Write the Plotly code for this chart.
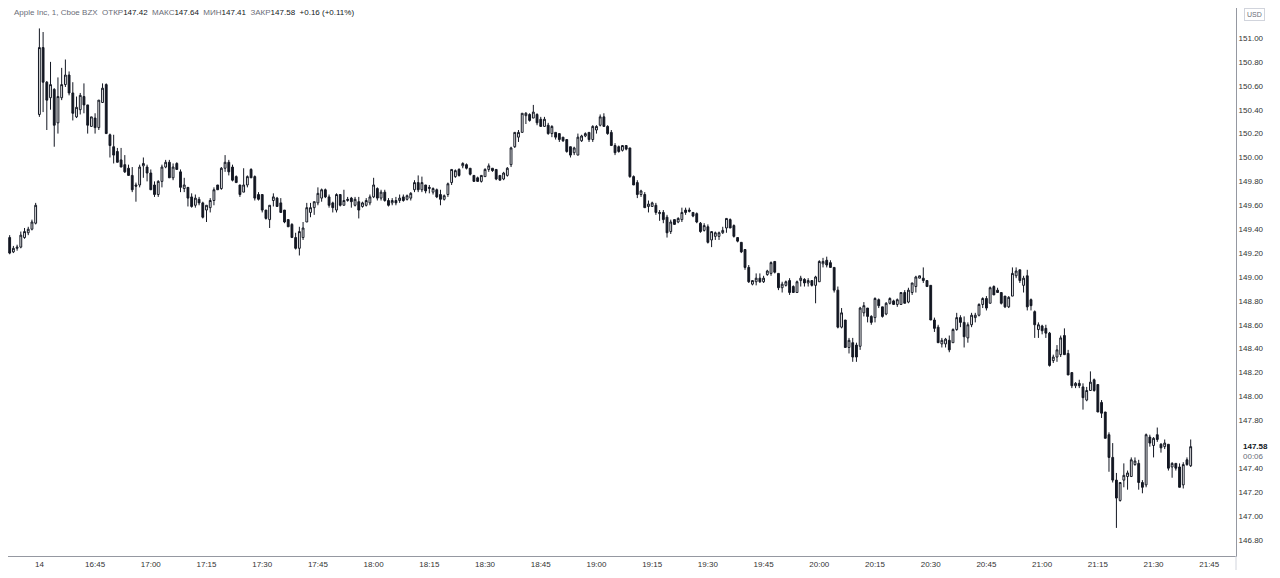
import pandas as pd
import plotly.graph_objects as go

INK = "#131722"
GRAY = "#6a6d78"
LINE = "#d1d4dc"
AXIS = "#9598a1"

# 8 pre-market bars (16:22-16:29), then the session from 16:30 to 21:40, one bar per minute
times = pd.date_range("2021-09-14 16:22", periods=319, freq="min")

opens = [
    149.33, 149.21, 149.24, 149.25, 149.33, 149.37, 149.40, 149.45,
    150.36, 150.92, 150.63, 150.50, 150.57, 150.29, 150.50, 150.61, 150.69, 150.54,
    150.34, 150.40, 150.51, 150.44, 150.26, 150.33, 150.25, 150.46, 150.61, 150.19,
    150.09, 150.05, 149.98, 149.94, 149.91, 149.85, 149.77, 149.77, 149.93, 149.92,
    149.87, 149.77, 149.69, 149.80, 149.92, 149.96, 149.83, 149.95, 149.88, 149.74,
    149.75, 149.67, 149.60, 149.65, 149.62, 149.56, 149.58, 149.64, 149.77, 149.74,
    149.91, 149.96, 149.92, 149.84, 149.77, 149.71, 149.77, 149.90, 149.84, 149.69,
    149.69, 149.56, 149.48, 149.64, 149.66, 149.62, 149.56, 149.48, 149.44, 149.33,
    149.24, 149.33, 149.46, 149.54, 149.58, 149.62, 149.66, 149.73, 149.67, 149.62,
    149.56, 149.69, 149.60, 149.64, 149.66, 149.60, 149.63, 149.59, 149.60, 149.62,
    149.67, 149.74, 149.66, 149.71, 149.64, 149.62, 149.64, 149.64, 149.67, 149.65,
    149.66, 149.73, 149.79, 149.73, 149.77, 149.74, 149.71, 149.73, 149.69, 149.65,
    149.69, 149.79, 149.84, 149.90, 149.93, 149.94, 149.91, 149.85, 149.83, 149.80,
    149.84, 149.90, 149.91, 149.90, 149.85, 149.82, 149.85, 149.94, 150.09, 150.17,
    150.21, 150.35, 150.36, 150.33, 150.36, 150.32, 150.26, 150.27, 150.20, 150.21,
    150.20, 150.17, 150.15, 150.09, 150.04, 150.02, 150.14, 150.18, 150.21, 150.15,
    150.23, 150.27, 150.34, 150.26, 150.21, 150.10, 150.09, 150.06, 150.10, 150.08,
    149.84, 149.79, 149.69, 149.69, 149.59, 149.59, 149.60, 149.53, 149.54, 149.50,
    149.38, 149.48, 149.46, 149.48, 149.56, 149.56, 149.54, 149.53, 149.45, 149.39,
    149.42, 149.31, 149.34, 149.34, 149.37, 149.41, 149.48, 149.43, 149.33, 149.29,
    149.23, 149.08, 148.94, 148.96, 148.99, 148.96, 149.02, 149.03, 149.13, 149.03,
    148.91, 148.93, 148.97, 148.92, 148.87, 148.97, 148.98, 148.95, 148.97, 148.93,
    148.96, 149.11, 149.14, 149.12, 149.08, 148.89, 148.58, 148.64, 148.41, 148.45,
    148.43, 148.42, 148.70, 148.74, 148.67, 148.66, 148.81, 148.75, 148.69, 148.78,
    148.80, 148.77, 148.77, 148.87, 148.79, 148.87, 148.92, 148.99, 148.99, 148.97,
    148.93, 148.64, 148.58, 148.44, 148.44, 148.47, 148.45, 148.56, 148.66, 148.62,
    148.49, 148.60, 148.66, 148.68, 148.77, 148.82, 148.78, 148.92, 148.89, 148.87,
    148.84, 148.75, 148.84, 149.01, 149.06, 148.93, 149.01, 148.81, 148.71, 148.56,
    148.59, 148.57, 148.53, 148.30, 148.33, 148.35, 148.51, 148.36, 148.20, 148.09,
    148.11, 148.08, 147.97, 148.05, 148.14, 148.10, 147.95, 147.87, 147.68, 147.49,
    147.30, 147.13, 147.30, 147.33, 147.33, 147.43, 147.44, 147.28, 147.26, 147.66,
    147.59, 147.68, 147.60, 147.58, 147.60, 147.41, 147.44, 147.41, 147.26, 147.47,
    147.42,
]

highs = [
    149.35, 149.26, 149.27, 149.38, 149.41, 149.42, 149.48, 149.62,
    151.08, 151.05, 150.64, 150.80, 150.58, 150.67, 150.75, 150.82, 150.72, 150.63,
    150.51, 150.54, 150.62, 150.44, 150.34, 150.37, 150.48, 150.62, 150.62, 150.20,
    150.19, 150.08, 150.08, 150.02, 149.94, 149.92, 149.79, 149.94, 150.00, 149.94,
    149.90, 149.80, 149.81, 149.94, 149.98, 149.98, 149.95, 149.96, 149.90, 149.83,
    149.75, 149.70, 149.69, 149.67, 149.63, 149.60, 149.66, 149.75, 149.77, 149.92,
    150.02, 149.98, 149.94, 149.85, 149.77, 149.91, 149.85, 149.91, 149.85, 149.71,
    149.69, 149.56, 149.60, 149.70, 149.67, 149.66, 149.56, 149.48, 149.45, 149.37,
    149.42, 149.46, 149.62, 149.62, 149.63, 149.75, 149.74, 149.74, 149.69, 149.63,
    149.70, 149.69, 149.73, 149.67, 149.67, 149.67, 149.67, 149.63, 149.66, 149.69,
    149.83, 149.75, 149.73, 149.73, 149.66, 149.66, 149.67, 149.69, 149.69, 149.69,
    149.71, 149.81, 149.85, 149.84, 149.77, 149.77, 149.75, 149.74, 149.73, 149.69,
    149.79, 149.90, 149.90, 149.91, 149.96, 149.95, 149.91, 149.85, 149.84, 149.85,
    149.91, 149.95, 149.91, 149.90, 149.85, 149.88, 149.92, 150.09, 150.21, 150.23,
    150.37, 150.38, 150.37, 150.44, 150.37, 150.34, 150.34, 150.29, 150.27, 150.21,
    150.20, 150.17, 150.15, 150.09, 150.09, 150.20, 150.19, 150.21, 150.21, 150.27,
    150.27, 150.36, 150.37, 150.27, 150.23, 150.12, 150.10, 150.10, 150.10, 150.08,
    149.85, 149.81, 149.73, 149.71, 149.64, 149.63, 149.62, 149.56, 149.56, 149.52,
    149.48, 149.48, 149.50, 149.58, 149.58, 149.58, 149.54, 149.54, 149.46, 149.45,
    149.44, 149.38, 149.38, 149.38, 149.42, 149.49, 149.49, 149.44, 149.33, 149.29,
    149.23, 149.10, 148.97, 149.03, 149.03, 149.01, 149.06, 149.13, 149.13, 149.03,
    148.96, 148.97, 148.99, 148.93, 148.97, 149.01, 148.99, 148.99, 148.97, 149.01,
    149.14, 149.16, 149.17, 149.14, 149.08, 148.92, 148.74, 148.64, 148.49, 148.49,
    148.45, 148.75, 148.79, 148.74, 148.68, 148.83, 148.82, 148.75, 148.79, 148.83,
    148.81, 148.82, 148.87, 148.89, 148.91, 148.95, 149.01, 149.01, 149.08, 148.97,
    148.93, 148.66, 148.60, 148.49, 148.49, 148.51, 148.57, 148.70, 148.68, 148.67,
    148.62, 148.70, 148.70, 148.78, 148.83, 148.84, 148.92, 148.93, 148.91, 148.87,
    148.84, 148.84, 149.08, 149.08, 149.06, 149.01, 149.06, 148.82, 148.72, 148.62,
    148.60, 148.60, 148.54, 148.35, 148.43, 148.51, 148.57, 148.39, 148.20, 148.12,
    148.14, 148.11, 148.08, 148.21, 148.15, 148.10, 147.97, 147.87, 147.70, 147.61,
    147.36, 147.28, 147.44, 147.38, 147.49, 147.49, 147.47, 147.30, 147.69, 147.68,
    147.66, 147.74, 147.61, 147.64, 147.60, 147.45, 147.44, 147.44, 147.45, 147.49,
    147.64,
]

lows = [
    149.19, 149.20, 149.22, 149.24, 149.32, 149.35, 149.39, 149.44,
    150.34, 150.38, 150.23, 150.40, 150.09, 150.20, 150.48, 150.59, 150.52, 150.31,
    150.33, 150.36, 150.37, 150.20, 150.26, 150.20, 150.23, 150.46, 150.20, 150.00,
    149.95, 149.96, 149.92, 149.87, 149.85, 149.71, 149.63, 149.75, 149.83, 149.80,
    149.73, 149.67, 149.67, 149.75, 149.91, 149.83, 149.81, 149.90, 149.71, 149.71,
    149.59, 149.58, 149.58, 149.60, 149.49, 149.46, 149.54, 149.60, 149.73, 149.73,
    149.88, 149.85, 149.80, 149.79, 149.67, 149.71, 149.75, 149.83, 149.64, 149.64,
    149.54, 149.48, 149.41, 149.59, 149.59, 149.54, 149.45, 149.42, 149.33, 149.23,
    149.18, 149.31, 149.46, 149.50, 149.52, 149.60, 149.63, 149.66, 149.58, 149.54,
    149.54, 149.59, 149.60, 149.63, 149.58, 149.59, 149.49, 149.58, 149.59, 149.60,
    149.66, 149.64, 149.64, 149.63, 149.59, 149.60, 149.60, 149.62, 149.63, 149.64,
    149.64, 149.71, 149.71, 149.71, 149.70, 149.70, 149.69, 149.66, 149.60, 149.64,
    149.67, 149.77, 149.83, 149.84, 149.91, 149.90, 149.85, 149.80, 149.80, 149.79,
    149.84, 149.88, 149.88, 149.81, 149.81, 149.81, 149.84, 149.92, 150.08, 150.13,
    150.21, 150.28, 150.30, 150.33, 150.27, 150.26, 150.26, 150.19, 150.17, 150.15,
    150.13, 150.13, 150.04, 150.00, 150.02, 150.02, 150.13, 150.17, 150.13, 150.13,
    150.20, 150.26, 150.26, 150.19, 150.10, 150.02, 150.04, 150.05, 150.06, 149.83,
    149.77, 149.66, 149.67, 149.58, 149.54, 149.59, 149.52, 149.47, 149.45, 149.33,
    149.36, 149.44, 149.45, 149.46, 149.52, 149.54, 149.50, 149.45, 149.37, 149.38,
    149.28, 149.25, 149.31, 149.31, 149.36, 149.37, 149.41, 149.33, 149.29, 149.20,
    149.06, 148.95, 148.93, 148.93, 148.95, 148.95, 149.01, 149.01, 149.03, 148.89,
    148.87, 148.92, 148.85, 148.87, 148.87, 148.92, 148.92, 148.92, 148.92, 148.78,
    148.96, 149.08, 149.08, 149.08, 148.87, 148.57, 148.57, 148.41, 148.36, 148.29,
    148.29, 148.39, 148.67, 148.62, 148.60, 148.62, 148.74, 148.66, 148.68, 148.77,
    148.77, 148.75, 148.77, 148.78, 148.78, 148.85, 148.87, 148.99, 148.95, 148.92,
    148.64, 148.54, 148.45, 148.41, 148.41, 148.37, 148.45, 148.55, 148.58, 148.41,
    148.45, 148.58, 148.62, 148.67, 148.74, 148.72, 148.78, 148.85, 148.87, 148.77,
    148.74, 148.74, 148.84, 148.99, 148.95, 148.87, 148.72, 148.72, 148.49, 148.49,
    148.52, 148.49, 148.25, 148.28, 148.29, 148.33, 148.35, 148.18, 148.07, 148.07,
    148.07, 147.89, 147.96, 148.05, 148.04, 147.87, 147.82, 147.65, 147.37, 147.28,
    146.90, 147.12, 147.24, 147.22, 147.33, 147.42, 147.22, 147.19, 147.24, 147.58,
    147.49, 147.62, 147.53, 147.56, 147.38, 147.32, 147.38, 147.24, 147.23, 147.42,
    147.41,
]

closes = [
    149.20, 149.24, 149.25, 149.35, 149.38, 149.40, 149.46, 149.60,
    150.92, 150.63, 150.48, 150.61, 150.27, 150.51, 150.61, 150.69, 150.54, 150.37,
    150.42, 150.52, 150.44, 150.27, 150.34, 150.25, 150.48, 150.58, 150.20, 150.10,
    150.02, 149.96, 149.92, 149.88, 149.85, 149.73, 149.76, 149.92, 149.95, 149.87,
    149.73, 149.69, 149.80, 149.92, 149.96, 149.83, 149.92, 149.90, 149.75, 149.77,
    149.66, 149.59, 149.66, 149.62, 149.50, 149.60, 149.64, 149.73, 149.73, 149.91,
    149.96, 149.88, 149.81, 149.79, 149.69, 149.77, 149.84, 149.83, 149.66, 149.65,
    149.56, 149.49, 149.60, 149.67, 149.59, 149.54, 149.46, 149.42, 149.33, 149.24,
    149.38, 149.41, 149.58, 149.58, 149.63, 149.70, 149.73, 149.67, 149.60, 149.58,
    149.69, 149.60, 149.64, 149.65, 149.63, 149.65, 149.56, 149.62, 149.64, 149.67,
    149.77, 149.66, 149.71, 149.64, 149.60, 149.64, 149.62, 149.66, 149.64, 149.68,
    149.70, 149.79, 149.73, 149.79, 149.72, 149.75, 149.74, 149.67, 149.65, 149.68,
    149.78, 149.90, 149.89, 149.85, 149.95, 149.91, 149.86, 149.80, 149.80, 149.85,
    149.90, 149.93, 149.89, 149.82, 149.81, 149.87, 149.91, 150.08, 150.21, 150.21,
    150.37, 150.37, 150.31, 150.38, 150.29, 150.26, 150.32, 150.20, 150.26, 150.17,
    150.15, 150.14, 150.05, 150.02, 150.08, 150.17, 150.18, 150.20, 150.15, 150.26,
    150.26, 150.34, 150.26, 150.20, 150.10, 150.04, 150.05, 150.10, 150.07, 149.84,
    149.77, 149.69, 149.72, 149.58, 149.61, 149.62, 149.54, 149.54, 149.48, 149.37,
    149.46, 149.44, 149.49, 149.54, 149.54, 149.55, 149.51, 149.46, 149.38, 149.43,
    149.29, 149.38, 149.37, 149.37, 149.39, 149.49, 149.41, 149.34, 149.30, 149.21,
    149.08, 148.96, 148.97, 148.99, 148.96, 148.99, 149.05, 149.12, 149.04, 148.91,
    148.94, 148.96, 148.87, 148.87, 148.96, 148.99, 148.95, 148.97, 148.93, 149.00,
    149.13, 149.13, 149.10, 149.08, 148.89, 148.58, 148.70, 148.41, 148.47, 148.33,
    148.33, 148.74, 148.76, 148.67, 148.62, 148.82, 148.76, 148.67, 148.78, 148.82,
    148.77, 148.81, 148.87, 148.78, 148.89, 148.95, 149.00, 149.01, 148.97, 148.92,
    148.64, 148.57, 148.45, 148.47, 148.48, 148.39, 148.56, 148.66, 148.62, 148.50,
    148.60, 148.68, 148.68, 148.77, 148.82, 148.74, 148.91, 148.85, 148.87, 148.78,
    148.75, 148.83, 149.03, 149.05, 148.97, 148.99, 148.75, 148.76, 148.60, 148.60,
    148.55, 148.53, 148.26, 148.33, 148.39, 148.49, 148.35, 148.18, 148.09, 148.11,
    148.09, 147.99, 148.05, 148.12, 148.05, 147.87, 147.86, 147.65, 147.49, 147.30,
    147.15, 147.28, 147.34, 147.36, 147.47, 147.46, 147.28, 147.24, 147.68, 147.61,
    147.65, 147.64, 147.57, 147.61, 147.40, 147.44, 147.40, 147.24, 147.43, 147.43,
    147.58,
]

price_ticks = [146.8, 147.0, 147.2, 147.4, 147.8, 148.0, 148.2, 148.4, 148.6,
               148.8, 149.0, 149.2, 149.4, 149.6, 149.8, 150.0, 150.2, 150.4,
               150.6, 150.8, 151.0]
time_ticks = pd.date_range("2021-09-14 16:30", "2021-09-14 21:45", freq="15min")
time_labels = ["14"] + [t.strftime("%H:%M") for t in time_ticks[1:]]

last_price = 147.58

fig = go.Figure()

fig.add_trace(go.Candlestick(
    x=times, open=opens, high=highs, low=lows, close=closes,
    increasing=dict(line=dict(color=INK, width=1), fillcolor="white"),
    decreasing=dict(line=dict(color=INK, width=1), fillcolor=INK),
    whiskerwidth=0,
    hoverinfo="skip",
    showlegend=False,
))

header = (
    "Apple Inc, 1, Cboe BZX  "
    f"ОТКР<span style='color:{INK}'>147.42</span>  "
    f"МАКС<span style='color:{INK}'>147.64</span>  "
    f"МИН<span style='color:{INK}'>147.41</span>  "
    f"ЗАКР<span style='color:{INK}'>147.58</span>  "
    f"<span style='color:{INK}'>+0.16 (+0.11%)</span>"
)

# the page body keeps its 8px margin, so the figure is 1264x562 and sits at (8, 8)
fig.add_annotation(
    text=header, xref="paper", yref="paper", x=0.0033, y=0.991,
    xanchor="left", yanchor="middle", showarrow=False,
    font=dict(size=8, color=GRAY),
)
fig.add_annotation(
    text="USD", xref="paper", yref="paper", x=1.0147, y=0.988,
    xanchor="center", yanchor="middle", showarrow=False,
    font=dict(size=7, color=GRAY), bordercolor=LINE, borderwidth=1, borderpad=2,
)
fig.add_annotation(
    text=f"<b>{last_price:.2f}</b>", xref="paper", yref="y", x=1.004, y=last_price,
    xanchor="left", yanchor="middle", showarrow=False,
    font=dict(size=8, color=INK),
)
fig.add_annotation(
    text="00:06", xref="paper", yref="y", x=1.004, y=last_price, yshift=-10,
    xanchor="left", yanchor="middle", showarrow=False,
    font=dict(size=8, color=GRAY),
)

fig.update_layout(
    width=1264, height=562,
    plot_bgcolor="white", paper_bgcolor="white",
    margin=dict(l=0, r=36, t=0, b=14),
    font=dict(family="Liberation Sans, Arial, sans-serif", size=8, color="#333"),
    xaxis=dict(
        range=["2021-09-14 16:21:33", "2021-09-14 21:52:12"],
        rangeslider=dict(visible=False),
        showgrid=False, zeroline=False,
        showline=True, linecolor=AXIS, linewidth=1,
        tickvals=time_ticks, ticktext=time_labels, ticks="",
        tickfont=dict(size=8, color="#333"),
    ),
    yaxis=dict(
        side="right", range=[146.665, 151.251],
        showgrid=False, zeroline=False,
        showline=True, linecolor=AXIS, linewidth=1,
        tickvals=price_ticks, ticktext=[f"{v:.2f}" for v in price_ticks],
        ticks="", tickfont=dict(size=8, color="#333"),
    ),
    # price-scale separator runs on through the time-axis strip
    shapes=[dict(type="line", xref="paper", yref="paper",
                 x0=1, x1=1, y0=-0.0256, y1=0,
                 line=dict(color=LINE, width=1))],
)

fig.write_html("out.html")
